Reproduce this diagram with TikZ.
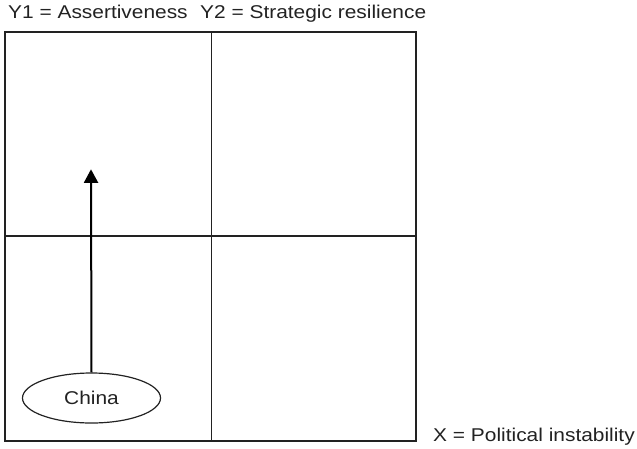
\documentclass[tikz,border=0pt]{standalone}
\usepackage{fontspec}
\setmainfont{Liberation Sans}
\usetikzlibrary{arrows.meta,shapes.geometric}
\definecolor{ink}{HTML}{222222}
% widened lettering for all labels
\newcommand\widetext[1]{\scalebox{1.13}[1]{#1}}
\begin{document}
\begin{tikzpicture}[x=1pt,y=-1pt,
  label text/.style={inner sep=0pt,anchor=base west,text=ink,font=\fontsize{18.5}{21}\selectfont},
  frame line/.style={draw=ink,line width=1.3pt},
  oval/.style={draw=ink,line width=1.2pt,ellipse,minimum width=138pt,minimum height=50pt,inner sep=0pt,
    text=ink,font=\fontsize{18.5}{21}\selectfont},
  push/.style={draw=black,line width=2pt,-{Triangle[width=14pt,length=13.5pt]}}]
\useasboundingbox (0,0) rectangle (637,448);
% outer frame of the two-by-two grid
\node[frame line,minimum width=411pt,minimum height=409pt,inner sep=0pt] (frame) at (210.5,236.5) {};
\coordinate (midtop) at (211.7,32);
\coordinate (midbot) at (211.7,441);
\coordinate (midleft) at (5,236);
\coordinate (midright) at (416,236);
\draw[frame line] (midtop) -- (midbot);
\draw[frame line] (midleft) -- (midright);
% axis legends
\node[label text] (y1) at (8,18.5) {\widetext{Y1 = Assertiveness}};
\node[label text] (y2) at (200,18.5) {\widetext{Y2 = Strategic resilience}};
\node[label text] (x) at (433,441) {\widetext{X = Political instability}};
% actor and its movement
\node[oval] (china) at (91.5,398) {\widetext{China}};
\coordinate (tip) at (91,169.3);
\draw[push] (china.north) -- (tip);
\end{tikzpicture}
\end{document}
